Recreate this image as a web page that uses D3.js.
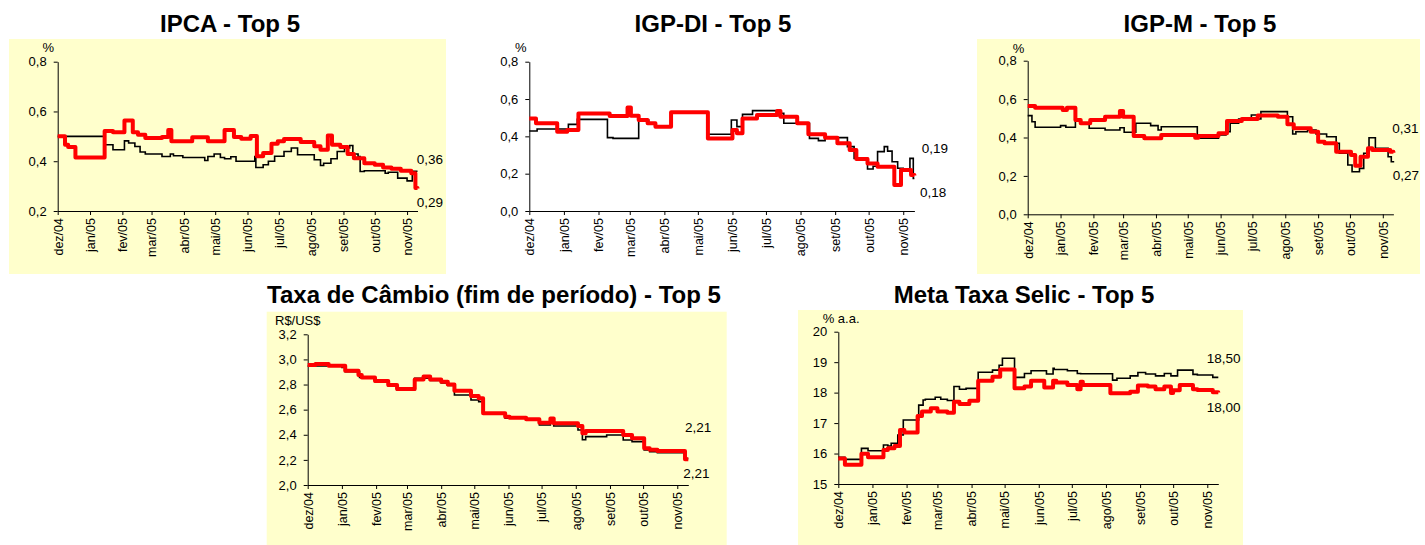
<!DOCTYPE html>
<html>
<head>
<meta charset="utf-8">
<script src="https://cdn.jsdelivr.net/npm/d3@7"></script>
<style>
body { margin: 0; background: #fff; }
svg { display: block; font-family: "Liberation Sans", Arial, sans-serif; }
</style>
</head>
<body>
<script>
var W = 1425, H = 545;
var parseDate = d3.timeParse("%Y-%m-%d");

var monthLabels = ["dez/04", "jan/05", "fev/05", "mar/05", "abr/05", "mai/05",
                   "jun/05", "jul/05", "ago/05", "set/05", "out/05", "nov/05"];
var firstDay = "2004-12-01", lastDay = "2005-11-11";

// IPCA - mercado (preto) e Top 5 (vermelho)
var ipcaMercado = [["2004-12-01",.50],["2005-01-15",.466],["2005-01-23",.446],["2005-02-03",.482],["2005-02-07",.473],
  ["2005-02-13",.459],["2005-02-18",.437],["2005-02-23",.429],["2005-03-11",.419],["2005-03-19",.429],["2005-03-22",.422],
  ["2005-03-31",.415],["2005-04-21",.403],["2005-04-24",.419],["2005-04-30",.429],["2005-05-06",.415],["2005-05-10",.41],
  ["2005-05-16",.418],["2005-05-21",.40],["2005-06-08",.419],["2005-06-09",.375],["2005-06-16",.386],["2005-06-21",.40],
  ["2005-06-27",.42],["2005-07-06",.439],["2005-07-13",.453],["2005-07-19",.426],["2005-08-04",.406],["2005-08-10",.383],
  ["2005-08-13",.392],["2005-08-20",.41],["2005-08-26",.439],["2005-09-02",.453],["2005-09-07",.463],["2005-09-10",.429],
  ["2005-09-15",.419],["2005-09-17",.359],["2005-09-21",.362],["2005-10-11",.352],["2005-10-14",.356],["2005-10-23",.332],
  ["2005-11-01",.321],["2005-11-06",.36],["2005-11-11",.36]];
var ipcaTop5 = [["2004-12-01",.50],["2004-12-08",.466],["2004-12-11",.457],["2004-12-18",.415],["2005-01-15",.522],
  ["2005-01-23",.516],["2005-02-03",.564],["2005-02-11",.516],["2005-02-16",.506],["2005-02-23",.493],["2005-03-11",.497],
  ["2005-03-17",.526],["2005-03-20",.48],["2005-04-09",.496],["2005-04-24",.48],["2005-05-10",.526],["2005-05-19",.497],
  ["2005-05-26",.49],["2005-06-04",.501],["2005-06-10",.42],["2005-06-16",.433],["2005-06-24",.47],["2005-06-30",.48],
  ["2005-07-06",.489],["2005-07-22",.477],["2005-08-04",.46],["2005-08-10",.446],["2005-08-17",.503],["2005-08-21",.466],
  ["2005-08-29",.457],["2005-09-05",.429],["2005-09-11",.412],["2005-09-21",.392],["2005-10-01",.386],["2005-10-09",.375],
  ["2005-10-17",.37],["2005-10-26",.362],["2005-11-05",.352],["2005-11-09",.292],["2005-11-11",.29]];
var ipcaFinais = ["0,36", "0,29"];

// IGP-DI
var igpdiMercado = [["2004-12-01",.429],["2004-12-08",.439],["2005-01-05",.464],["2005-01-13",.491],["2005-02-09",.393],
  ["2005-02-14",.389],["2005-03-09",.4875],["2005-03-18",.47],["2005-03-24",.452],["2005-04-07",.529],["2005-05-10",.411],
  ["2005-05-31",.4875],["2005-06-05",.452],["2005-06-10",.518],["2005-06-19",.538],["2005-07-11",.523],["2005-07-17",.47],
  ["2005-08-09",.389],["2005-08-17",.377],["2005-08-23",.393],["2005-09-12",.345],["2005-09-18",.282],["2005-09-30",.225],
  ["2005-10-05",.24],["2005-10-09",.318],["2005-10-15",.345],["2005-10-18",.321],["2005-10-22",.264],["2005-10-27",.229],
  ["2005-11-01",.22],["2005-11-07",.282],["2005-11-10",.175],["2005-11-11",.175]];
var igpdiTop5 = [["2004-12-01",.496],["2004-12-07",.47],["2004-12-26",.425],["2005-01-04",.434],["2005-01-14",.523],
  ["2005-02-11",.509],["2005-02-27",.554],["2005-03-02",.511],["2005-03-09",.4875],["2005-03-17",.47],["2005-03-24",.452],
  ["2005-04-07",.529],["2005-05-10",.389],["2005-06-01",.434],["2005-06-05",.416],["2005-06-10",.496],["2005-06-23",.514],
  ["2005-07-11",.536],["2005-07-14",.505],["2005-07-29",.47],["2005-08-08",.411],["2005-08-23",.393],["2005-09-03",.3625],
  ["2005-09-14",.327],["2005-09-20",.279],["2005-09-30",.255],["2005-10-09",.2375],["2005-10-24",.139],["2005-10-30",.22],
  ["2005-11-08",.193],["2005-11-11",.19]];
var igpdiFinais = ["0,19", "0,18"];

// IGP-M
var igpmMercado = [["2004-12-01",.514],["2004-12-05",.482],["2004-12-08",.453],["2005-01-01",.462],["2005-01-06",.453],
  ["2005-01-15",.491],["2005-01-20",.474],["2005-01-28",.448],["2005-02-12",.439],["2005-02-26",.451],["2005-03-02",.427],
  ["2005-03-13",.474],["2005-03-27",.462],["2005-04-03",.439],["2005-04-06",.456],["2005-05-10",.396],["2005-05-30",.413],
  ["2005-06-06",.43],["2005-06-10",.474],["2005-06-18",.496],["2005-06-30",.517],["2005-07-06",.496],["2005-07-09",.535],
  ["2005-08-03",.508],["2005-08-08",.418],["2005-08-11",.43],["2005-08-22",.439],["2005-08-30",.418],["2005-09-09",.404],
  ["2005-09-18",.37],["2005-09-21",.318],["2005-09-29",.257],["2005-10-03",.222],["2005-10-10",.239],["2005-10-14",.318],
  ["2005-10-19",.399],["2005-10-25",.344],["2005-11-06",.30],["2005-11-09",.274],["2005-11-11",.27]];
var igpmTop5 = [["2004-12-01",.564],["2004-12-08",.555],["2005-01-03",.543],["2005-01-07",.555],["2005-01-15",.491],
  ["2005-01-20",.474],["2005-01-29",.491],["2005-02-12",.508],["2005-02-26",.538],["2005-03-01",.508],["2005-03-11",.408],
  ["2005-03-21",.396],["2005-04-06",.413],["2005-05-08",.399],["2005-05-11",.408],["2005-05-30",.422],["2005-06-07",.486],
  ["2005-06-21",.496],["2005-07-06",.514],["2005-07-25",.508],["2005-08-03",.469],["2005-08-09",.448],["2005-08-25",.43],
  ["2005-09-01",.378],["2005-09-07",.37],["2005-09-18",.326],["2005-10-02",.309],["2005-10-06",.253],["2005-10-11",.30],
  ["2005-10-18",.344],["2005-10-22",.335],["2005-11-08",.326],["2005-11-11",.32]];
var igpmFinais = ["0,31", "0,27"];

// Taxa de câmbio
var cambioMercado = [["2004-12-01",2.948],["2005-01-01",2.937],["2005-01-04",2.903],["2005-01-17",2.857],["2005-01-31",2.822],
  ["2005-02-12",2.788],["2005-02-20",2.757],["2005-03-08",2.85],["2005-03-22",2.833],["2005-04-01",2.812],["2005-04-07",2.793],
  ["2005-04-13",2.717],["2005-04-28",2.677],["2005-05-05",2.664],["2005-05-09",2.571],["2005-05-29",2.531],["2005-06-17",2.518],
  ["2005-06-29",2.478],["2005-07-09",2.512],["2005-07-12",2.47],["2005-08-03",2.438],["2005-08-07",2.36],["2005-08-10",2.385],
  ["2005-08-29",2.398],["2005-09-13",2.358],["2005-09-21",2.345],["2005-10-02",2.279],["2005-10-07",2.266],["2005-10-14",2.258],
  ["2005-11-08",2.21],["2005-11-11",2.21]];
var cambioTop5 = [["2004-12-01",2.956],["2004-12-08",2.964],["2004-12-20",2.95],["2005-01-04",2.91],["2005-01-16",2.876],
  ["2005-01-19",2.857],["2005-01-31",2.828],["2005-02-12",2.796],["2005-02-20",2.765],["2005-03-08",2.841],["2005-03-16",2.863],
  ["2005-03-22",2.841],["2005-04-01",2.822],["2005-04-07",2.80],["2005-04-13",2.751],["2005-04-28",2.709],["2005-05-05",2.69],
  ["2005-05-09",2.571],["2005-05-29",2.544],["2005-06-02",2.536],["2005-06-17",2.523],["2005-06-29",2.496],["2005-07-09",2.53],
  ["2005-07-12",2.491],["2005-08-03",2.469],["2005-08-07",2.412],["2005-08-10",2.43],["2005-09-13",2.398],["2005-09-21",2.372],
  ["2005-10-02",2.292],["2005-10-07",2.28],["2005-10-14",2.27],["2005-11-08",2.205],["2005-11-11",2.205]];
var cambioFinais = ["2,21", "2,21"];

// Meta Selic
var selicMercado = [["2004-12-01",15.88],["2004-12-07",15.81],["2004-12-22",16.17],["2004-12-28",16.09],["2005-01-11",16.28],
  ["2005-01-15",16.25],["2005-01-18",16.34],["2005-01-24",16.61],["2005-01-29",17.10],["2005-02-12",17.59],["2005-02-16",17.76],
  ["2005-02-18",17.78],["2005-02-27",17.85],["2005-03-04",17.78],["2005-03-10",17.74],["2005-03-16",18.20],["2005-03-21",18.11],
  ["2005-03-27",18.14],["2005-04-07",18.67],["2005-04-20",18.74],["2005-04-26",18.90],["2005-04-29",19.13],["2005-05-10",18.50],
  ["2005-05-19",18.63],["2005-05-25",18.72],["2005-06-08",18.61],["2005-06-14",18.80],["2005-06-15",18.76],["2005-06-27",18.72],
  ["2005-07-06",18.63],["2005-07-09",18.62],["2005-08-07",18.41],["2005-08-11",18.47],["2005-08-23",18.55],["2005-08-30",18.66],
  ["2005-09-06",18.61],["2005-09-15",18.55],["2005-09-23",18.63],["2005-09-29",18.55],["2005-10-05",18.74],["2005-10-19",18.60],
  ["2005-10-23",18.58],["2005-11-06",18.50],["2005-11-11",18.50]];
var selicTop5 = [["2004-12-01",15.84],["2004-12-07",15.63],["2004-12-22",15.99],["2004-12-28",15.88],["2005-01-11",16.12],
  ["2005-01-15",16.17],["2005-01-21",16.25],["2005-01-26",16.77],["2005-01-30",16.69],["2005-02-11",17.23],["2005-02-15",17.38],
  ["2005-02-23",17.49],["2005-03-01",17.38],["2005-03-10",17.34],["2005-03-16",17.70],["2005-03-21",17.63],["2005-03-30",17.73],
  ["2005-04-07",18.39],["2005-04-20",18.52],["2005-04-27",18.76],["2005-05-10",18.14],["2005-05-19",18.20],["2005-05-25",18.39],
  ["2005-06-06",18.17],["2005-06-14",18.39],["2005-06-17",18.33],["2005-06-27",18.25],["2005-07-06",18.11],["2005-07-09",18.36],
  ["2005-07-11",18.25],["2005-08-05",17.98],["2005-08-23",18.03],["2005-08-30",18.23],["2005-09-08",18.20],["2005-09-15",18.11],
  ["2005-09-23",18.20],["2005-09-29",17.99],["2005-10-01",18.08],["2005-10-07",18.25],["2005-10-19",18.11],["2005-10-23",18.09],
  ["2005-11-06",18.01],["2005-11-11",18.00]];
var selicFinais = ["18,50", "18,00"];

var ticksPct02 = [0.2, 0.4, 0.6, 0.8];
var ticksPct00 = [0.0, 0.2, 0.4, 0.6, 0.8];
var ticksCambio = [2.0, 2.2, 2.4, 2.6, 2.8, 3.0, 3.2];
var ticksSelic = [15, 16, 17, 18, 19, 20];

var fmtDec = function (v) { return d3.format(".1f")(v).replace(".", ","); };
var fmtInt = d3.format("d");

var charts = [
  {title: "IPCA - Top 5", tx: 230, ty: 32, panel: [9, 39, 437, 235], unit: "%", ux: 42.5, uy: 51.7,
   x0: 57.7, x1: 417.5, yTop: 61.7, yBot: 211, ticks: ticksPct02, fmt: fmtDec,
   black: ipcaMercado, red: ipcaTop5, finais: ipcaFinais, lx: [416.7, 416.7], ly: [164, 206.7]},
  {title: "IGP-DI - Top 5", tx: 713, ty: 32, panel: null, unit: "%", ux: 515, uy: 51.7,
   x0: 529.3, x1: 914.4, yTop: 61.7, yBot: 211, ticks: ticksPct00, fmt: fmtDec,
   black: igpdiMercado, red: igpdiTop5, finais: igpdiFinais, lx: [921.7, 920], ly: [152.7, 196.7]},
  {title: "IGP-M - Top 5", tx: 1200, ty: 32, panel: [977, 39, 443, 235], unit: "%", ux: 1012.7, uy: 53.3,
   x0: 1027.7, x1: 1393.4, yTop: 60.7, yBot: 214.3, ticks: ticksPct00, fmt: fmtDec,
   black: igpmMercado, red: igpmTop5, finais: igpmFinais, lx: [1392.3, 1392.7], ly: [133.3, 180]},
  {title: "Taxa de Câmbio (fim de período) - Top 5", tx: 494, ty: 303, panel: [266.7, 311.7, 460, 234], unit: "R$/US$", ux: 275, uy: 325,
   x0: 307.7, x1: 688.3, yTop: 334.3, yBot: 485, ticks: ticksCambio, fmt: fmtDec,
   black: cambioMercado, red: cambioTop5, finais: cambioFinais, lx: [685, 683.3], ly: [431.7, 478.3]},
  {title: "Meta Taxa Selic - Top 5", tx: 1024, ty: 303, panel: [798, 310, 445, 235], unit: "% a.a.", ux: 822.7, uy: 322.7,
   x0: 838.3, x1: 1218.3, yTop: 331.7, yBot: 484, ticks: ticksSelic, fmt: fmtInt,
   black: selicMercado, red: selicTop5, finais: selicFinais, lx: [1206.7, 1206.7], ly: [363.3, 411.7]}
];

var svg = d3.select("body").append("svg")
    .attr("width", W)
    .attr("height", H);

var monthDates = d3.timeMonth.range(parseDate(firstDay), d3.timeDay.offset(parseDate(lastDay), 1));

charts.forEach(function (c) {
    var g = svg.append("g");

    if (c.panel) {
        g.append("rect")
            .attr("x", c.panel[0]).attr("y", c.panel[1])
            .attr("width", c.panel[2]).attr("height", c.panel[3])
            .attr("fill", "#ffffcc");
    }

    g.append("text")
        .attr("x", c.tx).attr("y", c.ty)
        .attr("text-anchor", "middle")
        .attr("font-size", 24).attr("font-weight", "bold")
        .text(c.title);

    var x = d3.scaleTime()
        .domain([parseDate(firstDay), parseDate(lastDay)])
        .range([c.x0, c.x1]);
    var y = d3.scaleLinear()
        .domain(d3.extent(c.ticks))
        .range([c.yBot, c.yTop]);

    var xAxis = d3.axisBottom(x)
        .tickValues(monthDates)
        .tickFormat(function (d, i) { return monthLabels[i]; })
        .tickSize(4).tickSizeOuter(0);
    var gx = g.append("g")
        .attr("transform", "translate(0," + c.yBot + ")")
        .call(xAxis)
        .attr("font-family", null)
        .attr("font-size", 12.5);
    gx.selectAll(".tick text")
        .attr("text-anchor", "end")
        .attr("transform", "rotate(-90)")
        .attr("x", -7).attr("y", 0).attr("dy", "0.35em");

    var yAxis = d3.axisLeft(y)
        .tickValues(c.ticks)
        .tickFormat(c.fmt)
        .tickSize(4).tickSizeOuter(0).tickPadding(7);
    g.append("g")
        .attr("transform", "translate(" + c.x0 + ",0)")
        .call(yAxis)
        .attr("font-family", null)
        .attr("font-size", 13);

    g.append("text")
        .attr("x", c.ux).attr("y", c.uy)
        .attr("font-size", 13)
        .text(c.unit);

    var line = d3.line()
        .curve(d3.curveStepAfter)
        .x(function (d) { return x(parseDate(d[0])); })
        .y(function (d) { return y(d[1]); });

    g.append("path")
        .datum(c.black)
        .attr("d", line)
        .attr("fill", "none")
        .attr("stroke", "#000")
        .attr("stroke-width", 1.6);

    g.append("path")
        .datum(c.red)
        .attr("d", line)
        .attr("fill", "none")
        .attr("stroke", "#ff0000")
        .attr("stroke-width", 4)
        .attr("stroke-linejoin", "round");

    g.selectAll(".final")
        .data(c.finais)
        .enter().append("text")
        .attr("class", "final")
        .attr("x", function (d, i) { return c.lx[i]; })
        .attr("y", function (d, i) { return c.ly[i]; })
        .attr("font-size", 13.5)
        .text(function (d) { return d; });
});
</script>
</body>
</html>
